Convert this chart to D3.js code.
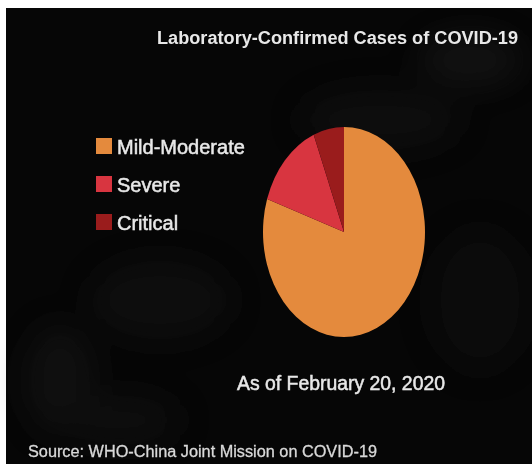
<!DOCTYPE html>
<html>
<head>
<meta charset="utf-8">
<script src="https://cdn.jsdelivr.net/npm/d3@7"></script>
<style>
html,body{margin:0;padding:0;background:#fff;}
svg{display:block;}
</style>
</head>
<body>
<svg id="chart" width="532" height="464"></svg>
<script>
const categories = ["Mild-Moderate", "Severe", "Critical"];
const values = [80, 13.8, 6.1];
const colors = ["#e48a3c", "#d8343f", "#9a1a1e"];
const titleText = "Laboratory-Confirmed Cases of COVID-19";
const dateText = "As of February 20, 2020";
const sourceText = "Source: WHO-China Joint Mission on COVID-19";

const svg = d3.select("#chart");
const W = 532, H = 464;

const defs = svg.append("defs");
const blur = defs.append("filter").attr("id","smoke")
  .attr("filterUnits","userSpaceOnUse").attr("x",0).attr("y",0).attr("width",W).attr("height",H);
blur.append("feGaussianBlur").attr("stdDeviation", 16);
const blur2 = defs.append("filter").attr("id","soft").attr("x","-20%").attr("y","-20%").attr("width","140%").attr("height","140%");
blur2.append("feGaussianBlur").attr("stdDeviation", 0.5);

// dark background panel
svg.append("rect").attr("x",6).attr("y",8).attr("width",W-6).attr("height",H-8).attr("fill","#060606");

// faint smoke
const smoke = svg.append("g").attr("filter","url(#smoke)").attr("opacity",0.35);
[[470,60,50,25,"#2a2a2a"],[380,120,80,30,"#1e1e1e"],[160,300,70,40,"#1a1a1a"],[60,380,35,55,"#222"],
 [480,300,50,70,"#181818"],[120,420,60,25,"#1c1c1c"]].forEach(d=>{
  smoke.append("ellipse").attr("cx",d[0]).attr("cy",d[1]).attr("rx",d[2]).attr("ry",d[3]).attr("fill",d[4]);
});

// pie
const cx = 344, cy = 232, rx = 81, ry = 105;
const pie = d3.pie().sort(null).value(d => d)(values);
const arc = d3.arc().innerRadius(0).outerRadius(rx);
const pg = svg.append("g")
  .attr("transform", `translate(${cx},${cy}) scale(1,${ry/rx})`)
  .attr("filter","url(#soft)");
pg.selectAll("path").data(pie).join("path")
  .attr("d", arc)
  .attr("fill", (d,i) => colors[i]);

const font = "'Liberation Sans', Arial, sans-serif";
// title
svg.append("text").attr("x",157).attr("y",44)
  .attr("font-family",font).attr("font-weight","bold")
  .attr("font-size",18).attr("fill","#e8e8e8")
  .attr("textLength",361).attr("lengthAdjust","spacingAndGlyphs")
  .attr("filter","url(#soft)")
  .text(titleText);

// legend
const lg = svg.append("g").attr("filter","url(#soft)");
const ly = d3.scalePoint().domain(categories).range([146, 222]);
lg.selectAll("rect").data(categories).join("rect")
  .attr("x",96).attr("y",d => ly(d)-8).attr("width",16).attr("height",16)
  .attr("fill",(d,i)=>colors[i]);
lg.selectAll("text").data(categories).join("text")
  .attr("x",117).attr("y",d => ly(d)+8)
  .attr("font-family",font)
  .attr("font-size",20).attr("fill","#e8e8e8")
  .attr("stroke","#e8e8e8").attr("stroke-width",0.5)
  .text(d => d);

svg.append("text").attr("x",237).attr("y",390)
  .attr("font-family",font)
  .attr("font-size",20).attr("fill","#e8e8e8")
  .attr("stroke","#e8e8e8").attr("stroke-width",0.5)
  .attr("textLength",208).attr("lengthAdjust","spacingAndGlyphs")
  .attr("filter","url(#soft)")
  .text(dateText);

svg.append("text").attr("x",28).attr("y",457)
  .attr("font-family",font)
  .attr("font-size",16).attr("fill","#d8d8d8")
  .attr("stroke","#d8d8d8").attr("stroke-width",0.3)
  .attr("textLength",349).attr("lengthAdjust","spacingAndGlyphs")
  .attr("filter","url(#soft)")
  .text(sourceText);
</script>
</body>
</html>
